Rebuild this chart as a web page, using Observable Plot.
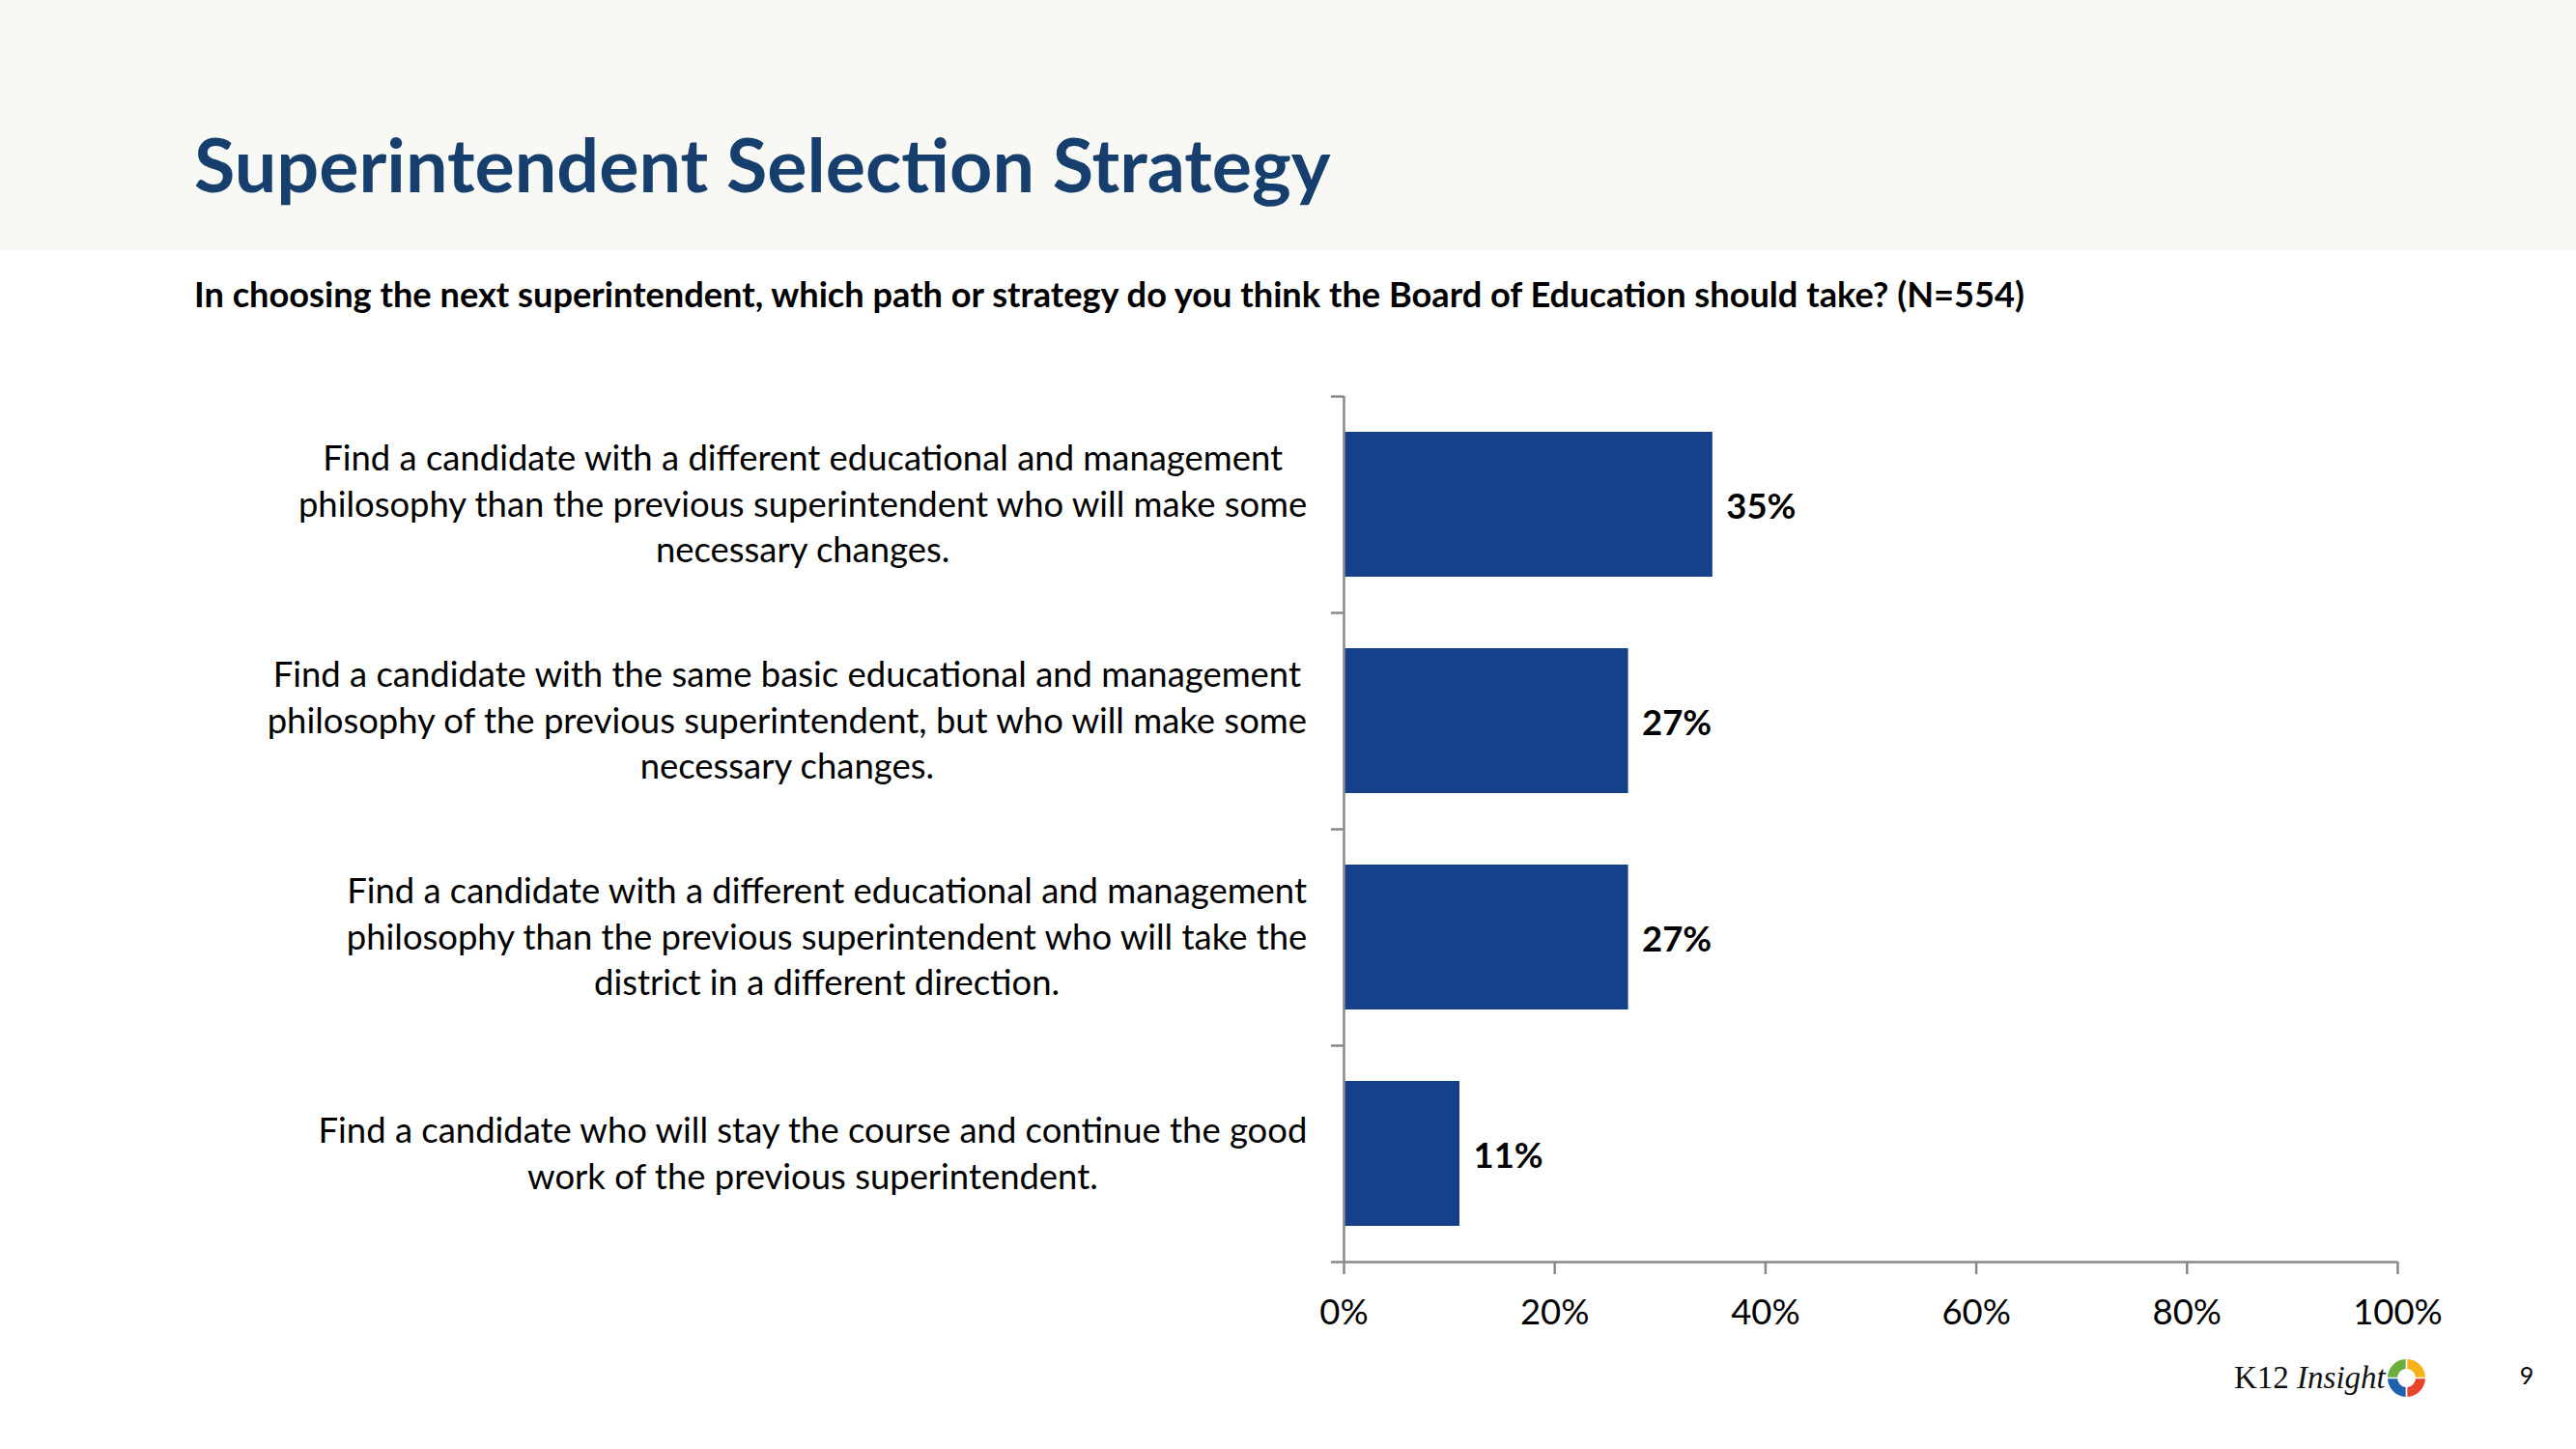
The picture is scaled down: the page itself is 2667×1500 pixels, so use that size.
<!DOCTYPE html>
<html>
<head>
<meta charset="utf-8">
<script src="https://cdn.jsdelivr.net/npm/d3@7"></script>
<script src="https://cdn.jsdelivr.net/npm/@observablehq/plot@0.6"></script>
<style>
  html, body { margin: 0; padding: 0; background: #fff; }
  #page { position: relative; width: 2667px; height: 1500px; overflow: hidden; background: #fff; font-family: Lato, "Open Sans", sans-serif; }
  #band { position: absolute; left: 0; top: 0; width: 2667px; height: 259px; background: #F8F8F5; }
  .txt { position: absolute; white-space: nowrap; line-height: 1; margin: 0; }
  #chart { position: absolute; left: 0; top: 380px; }
  #logo { position: absolute; left: 0; top: 0; }
</style>
</head>
<body>
<div id="page">
  <div id="band"></div>
  <h1 id="title" class="txt"></h1>
  <div id="subtitle" class="txt"></div>
  <div id="chart"></div>
  <svg id="logo" width="2667" height="1500"></svg>
</div>
<script>
// ---------------- data ----------------
const title = "Superintendent Selection Strategy";
const subtitle = "In choosing the next superintendent, which path or strategy do you think the Board of Education should take? (N=554)";
const categories = [
  "Find a candidate with a different educational and management\nphilosophy than the previous superintendent who will make some\nnecessary changes.",
  "Find a candidate with the same basic educational and management\nphilosophy of the previous superintendent, but who will make some\nnecessary changes.",
  "Find a candidate with a different educational and management\nphilosophy than the previous superintendent who will take the\ndistrict in a different direction.",
  "Find a candidate who will stay the course and continue the good\nwork of the previous superintendent."
];
const values = [0.35, 0.27, 0.27, 0.11];
const xTicks = [0, 0.2, 0.4, 0.6, 0.8, 1];
const brand = "K12";
const brandItalic = "Insight";
const pageNumber = "9";

// ---------------- styles / layout ----------------
const FAMILY = "Lato";
const BAR = "#15418A";
const AXIS = "#888888";
const TITLE_COLOR = "#173F6E";

const ctx = document.createElement("canvas").getContext("2d");
const textWidth = (t, font) => { ctx.font = font; return ctx.measureText(t).width; };
const fitSize = (t, weight, target) => 100 * target / textWidth(t, `${weight} 100px ${FAMILY}`);

const titleFS = fitSize(title, 700, 1177);
const subFS = fitSize(subtitle, 700, 1900);
const labelFS = fitSize(categories[0].split("\n")[0], 400, 995);
const BASE = 0.887; // Lato baseline offset with line-height 1

const t = document.getElementById("title");
t.textContent = title;
Object.assign(t.style, {left: "201px", top: (200 - BASE * titleFS) + "px", fontSize: titleFS + "px", fontWeight: 700, color: TITLE_COLOR});
const s = document.getElementById("subtitle");
s.textContent = subtitle;
Object.assign(s.style, {left: "201px", top: (318 - BASE * subFS) + "px", fontSize: subFS + "px", fontWeight: 700, color: "#000"});

// chart geometry (page coords)
const svgTop = 380, W = 2667, H = 1030;
const x0 = 1391, x1 = 2482, yTop = 410, yBottom = 1306;
const mL = x0, mR = W - x1, mT = yTop - svgTop, mB = H - (yBottom - svgTop);
const step = (yBottom - yTop) / categories.length;
const labelGap = 37;
const lineH = 47.6;

const rows = categories.map((c, i) => ({cat: c, value: values[i]}));
const pct = d3.format(".0%");

const labelMarks = rows.map(r => {
  const maxW = d3.max(r.cat.split("\n"), l => textWidth(l, `400 ${labelFS}px ${FAMILY}`));
  return Plot.text([r], {
    x: () => 0, y: "cat", text: "cat", textAnchor: "middle",
    dx: -(labelGap + maxW / 2), dy: -3, lineHeight: lineH / labelFS,
    fontSize: labelFS, fill: "#000"
  });
});

const chart = Plot.plot({
  width: W, height: H,
  marginLeft: mL, marginRight: mR, marginTop: mT, marginBottom: mB,
  style: {fontFamily: FAMILY, background: "transparent", color: "#000"},
  x: {domain: [0, 1]},
  y: {domain: categories, paddingInner: 0.33, paddingOuter: 0.165, axis: null},
  marks: [
    Plot.barX(rows, {x: "value", y: "cat", fill: BAR}),
    Plot.text(rows, {x: "value", y: "cat", text: d => pct(d.value), dx: 14, dy: 3, textAnchor: "start",
      fontWeight: "bold", fontSize: labelFS, fill: "#000"}),
    ...labelMarks,
    Plot.ruleX([0], {stroke: AXIS, strokeWidth: 2.5}),
    Plot.ruleY(categories, {y: d => d, dy: -step / 2, x1: () => 0, x2: () => 0, insetLeft: -13, stroke: AXIS, strokeWidth: 2.5}),
    Plot.ruleY([categories[categories.length - 1]], {y: d => d, dy: step / 2, x1: () => 0, x2: () => 1, insetLeft: -13, stroke: AXIS, strokeWidth: 2.5}),
    Plot.axisX({ticks: xTicks, tickFormat: pct, tickSize: 13, tickPadding: 26, fontSize: labelFS,
      stroke: AXIS, strokeWidth: 2.5, fill: "#000", label: null})
  ]
});
document.getElementById("chart").appendChild(chart);

// ---------------- logo & page number ----------------
const logo = d3.select("#logo");
const lt = logo.append("text").attr("x", 2313).attr("y", 1437)
  .attr("font-family", "Liberation Serif, DejaVu Serif, serif").attr("font-size", 33).attr("fill", "#111");
lt.append("tspan").text(brand + " ");
lt.append("tspan").attr("font-style", "italic").text(brandItalic);
const ringColors = ["#F5B21A", "#E8442B", "#1E62AE", "#6BAE3F"];
const arc = d3.arc().innerRadius(9.5).outerRadius(19.5).padAngle(0.08);
const ring = logo.append("g").attr("transform", "translate(2491.5,1426.5)");
ringColors.forEach((c, i) => {
  ring.append("path").attr("d", arc({startAngle: i * Math.PI / 2, endAngle: (i + 1) * Math.PI / 2})).attr("fill", c);
});
logo.append("text").attr("x", 2616).attr("y", 1433).attr("text-anchor", "middle")
  .attr("font-family", FAMILY).attr("font-size", 25).attr("fill", "#000").text(pageNumber);
</script>
</body>
</html>
